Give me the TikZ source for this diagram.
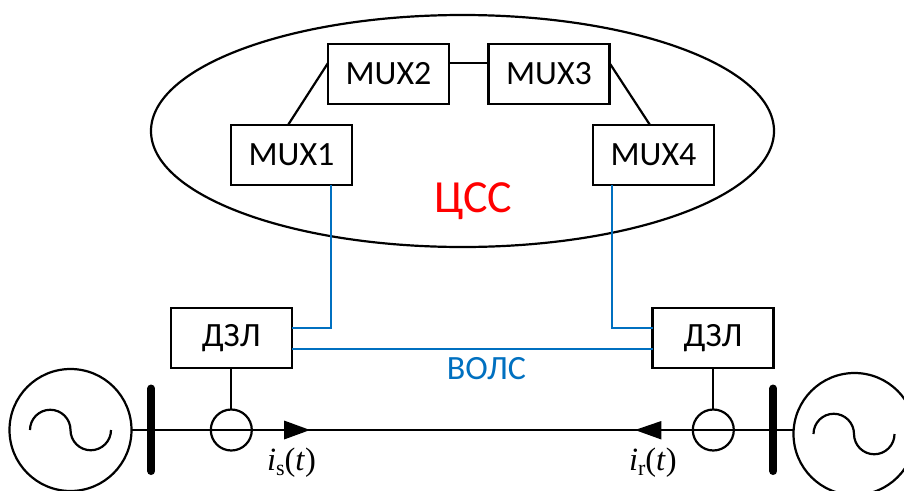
\documentclass[tikz,border=0pt]{standalone}
\usepackage{fontspec}
\usetikzlibrary{shapes.geometric}
\setmainfont{Carlito}
\newfontfamily\mathserif{Liberation Serif}
\definecolor{fiber}{HTML}{0070C0}
\newcommand{\curlabel}[1]{{\mathserif\fontsize{32.5}{32.5}\selectfont\textit{i}\raisebox{-5pt}{\fontsize{22}{22}\selectfont #1}(\textit{t})}}
\tikzset{
  x=1pt,y=-1pt,
  mainline/.style={line width=2.2pt,draw=black},
  fibre/.style={line width=2.2pt,draw=fiber},
  mux/.style={draw=black,line width=2.2pt,minimum width=121pt,minimum height=60pt,inner sep=0pt,outer sep=0pt,font=\fontsize{34}{34}\selectfont,text=black},
  gen/.style={draw=black,line width=2.2pt,circle,minimum size=122pt,inner sep=0pt,outer sep=0pt},
  ct/.style={draw=black,line width=2.2pt,circle,minimum size=41pt,inner sep=0pt,outer sep=0pt},
  busbar/.style={line width=8pt,line cap=round,draw=black},
  lbl/.style={inner sep=0pt,outer sep=0pt,anchor=base},
  tip/.style={fill=black,draw=none},
}
\begin{document}
\begin{tikzpicture}
\useasboundingbox (0,0) rectangle (904,490);
\clip (0,0) rectangle (904,490);
% cloud
\node[draw=black,line width=2.2pt,ellipse,minimum width=623pt,minimum height=232pt,inner sep=0pt,outer sep=0pt] (css) at (462.5,131) {};
\node[lbl,text=red,font=\fontsize{46}{46}\selectfont] (csslabel) at (473.5,212) {ЦСС};
% multiplexers
\node[mux] (mux1) at (291.5,155) {MUX1};
\node[mux] (mux2) at (388.5,74) {MUX2};
\node[mux] (mux3) at (549,74) {MUX3};
\node[mux] (mux4) at (653.5,155) {MUX4};
\draw[mainline] ([xshift=-3.5pt]mux1.north) -- ([yshift=11pt]mux2.west);
\draw[mainline] ([yshift=11pt]mux2.east) -- ([yshift=11pt]mux3.west);
\draw[mainline] ([yshift=11pt]mux3.east) -- ([xshift=-3.5pt]mux4.north);
% relays
\node[mux] (dzl1) at (231.2,338.3) {ДЗЛ};
\node[mux] (dzl2) at (713,338.3) {ДЗЛ};
% blue links
\draw[fibre] ([xshift=39.8pt]mux1.south) |- ([yshift=10.3pt]dzl1.east);
\draw[fibre] ([xshift=-41.5pt]mux4.south) |- ([yshift=10.3pt]dzl2.west);
\draw[fibre] ([yshift=-10.7pt]dzl1.east) -- ([yshift=-10.7pt]dzl2.west);
\node[lbl,text=fiber,font=\fontsize{34}{34}\selectfont] (ols) at (486.5,379) {ВОЛС};
% generators
\node[gen] (g1) at (70.5,430) {};
\node[gen] (g2) at (854.5,434) {};
\draw[line width=2.2pt] (30,430) arc[start angle=180,end angle=0,radius=20.25pt] arc[start angle=180,end angle=360,radius=20.25pt];
\draw[line width=2.2pt] (813.5,434) arc[start angle=180,end angle=0,radius=20.25pt] arc[start angle=180,end angle=360,radius=20.25pt];
% current transformers
\node[ct] (ct1) at (231.3,430) {};
\node[ct] (ct2) at (713.3,430) {};
\draw[mainline] (dzl1.south) -- (dzl1.south |- ct1.north);
\draw[mainline] (dzl2.south) -- (dzl2.south |- ct2.north);
% bus bars
\coordinate (b1a) at (151.3,388.5);
\coordinate (b1b) at (151.3,471);
\coordinate (b2a) at (773.3,388.5);
\coordinate (b2b) at (773.3,471);
\draw[busbar] (b1a) -- (b1b);
\draw[busbar] (b2a) -- (b2b);
% line
\draw[mainline] (g1.east) -- (g1.east -| g2.west);
% arrowheads
\fill[tip] (284,420.5) -- (310,430) -- (284,439.5) -- cycle;
\fill[tip] (661.3,421) -- (635,430) -- (661.3,439.5) -- cycle;
% labels
\node[lbl,anchor=base west] (is) at (267,470) {\curlabel{s}};
\node[lbl,anchor=base west] (ir) at (629,470) {\curlabel{r}};
\end{tikzpicture}
\end{document}
